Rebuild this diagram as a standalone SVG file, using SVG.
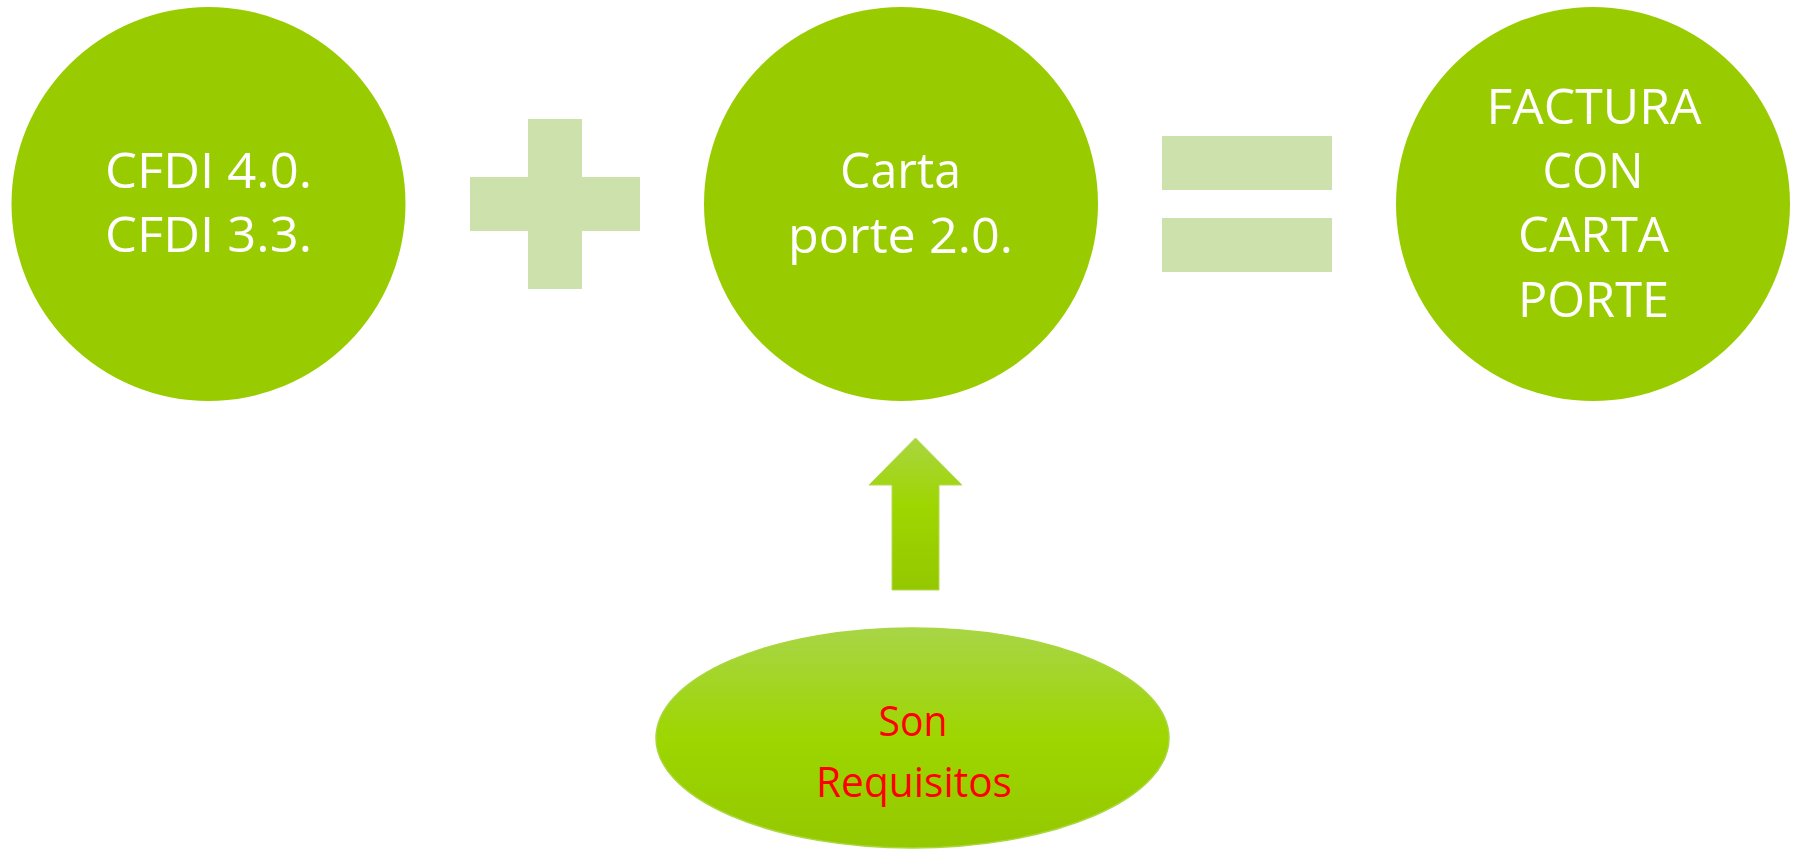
<svg xmlns="http://www.w3.org/2000/svg" width="1798" height="849" viewBox="0 0 1798 849">
  <style>
    .circ { fill: #99cc00; }
    .op { fill: #cce1ab; }
    .wt { font-family: "Open Sans", Lato, sans-serif; font-size: 50px; fill: #ffffff; text-anchor: middle; }
    .rt { font-family: "Open Sans", Lato, sans-serif; font-size: 42px; fill: #ff0000; text-anchor: middle; }
  </style>
  <defs>
    <linearGradient id="gArrow" x1="0" y1="0" x2="0" y2="1">
      <stop offset="0" stop-color="#aad540"/>
      <stop offset="0.45" stop-color="#9ed600"/>
      <stop offset="1" stop-color="#94c800"/>
    </linearGradient>
    <linearGradient id="gEll" x1="0" y1="0" x2="0" y2="1">
      <stop offset="0" stop-color="#a8d547"/>
      <stop offset="0.5" stop-color="#9dd600"/>
      <stop offset="1" stop-color="#94c800"/>
    </linearGradient>
  </defs>
  <rect width="1798" height="849" fill="#ffffff"/>

  <g id="node-cfdi">
    <circle class="circ" cx="208.5" cy="204" r="197"/>
    <text class="wt" x="208.5" y="188" textLength="207" lengthAdjust="spacingAndGlyphs">CFDI 4.0.</text>
    <text class="wt" x="208.5" y="252" textLength="207" lengthAdjust="spacingAndGlyphs">CFDI 3.3.</text>
  </g>

  <g id="op-plus">
    <rect class="op" x="528" y="119" width="54" height="170"/>
    <rect class="op" x="470" y="177" width="170" height="54"/>
  </g>

  <g id="node-carta">
    <circle class="circ" cx="901" cy="204" r="197"/>
    <text class="wt" x="900.5" y="188" textLength="121" lengthAdjust="spacingAndGlyphs">Carta</text>
    <text class="wt" x="900.5" y="253" textLength="225" lengthAdjust="spacingAndGlyphs">porte 2.0.</text>
  </g>

  <g id="op-equals">
    <rect class="op" x="1162" y="136" width="170" height="54"/>
    <rect class="op" x="1162" y="218" width="170" height="54"/>
  </g>

  <g id="node-factura">
    <circle class="circ" cx="1593" cy="204" r="197"/>
    <text class="wt" x="1594" y="124" textLength="215" lengthAdjust="spacingAndGlyphs">FACTURA</text>
    <text class="wt" x="1593" y="188" textLength="101" lengthAdjust="spacingAndGlyphs">CON</text>
    <text class="wt" x="1593.5" y="252" textLength="151" lengthAdjust="spacingAndGlyphs">CARTA</text>
    <text class="wt" x="1593.5" y="317" textLength="151" lengthAdjust="spacingAndGlyphs">PORTE</text>
  </g>

  <g id="connectors">
    <path d="M915.5,438 L962,485 L939,485 L939,590 L892,590 L892,485 L869,485 Z" fill="url(#gArrow)" stroke="#b3db55" stroke-width="1"/>
  </g>

  <g id="node-requisitos">
    <ellipse cx="912.5" cy="738" rx="256.5" ry="110" fill="url(#gEll)" stroke="#a9d63c" stroke-width="1.5"/>
    <text class="rt" x="913" y="736" textLength="69" lengthAdjust="spacingAndGlyphs">Son</text>
    <text class="rt" x="914" y="797" textLength="196" lengthAdjust="spacingAndGlyphs">Requisitos</text>
  </g>
</svg>
